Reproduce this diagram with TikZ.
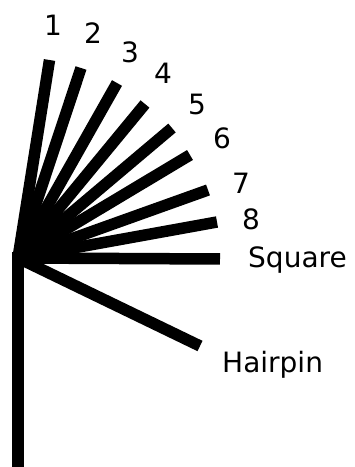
\documentclass[tikz,border=0pt]{standalone}
\usepackage{fontspec}
\setmainfont{DejaVu Sans}
\usetikzlibrary{positioning}

\tikzset{
  spoke/.style={line width=11.5pt},
  tag/.style={font=\fontsize{28}{32}\selectfont,inner sep=0pt}
}

\begin{document}
\begin{tikzpicture}[x=1pt,y=1pt]
  \useasboundingbox (0,0) rectangle (355,467);

  %% Hub and spoke ends
  \coordinate (hub) at (18,209);
  \coordinate (neck) at (18,215);
  \coordinate (foot) at (18,0);
  \coordinate (e1) at (49.5,407);
  \coordinate (e2) at (81,399);
  \coordinate (e3) at (117,384);
  \coordinate (e4) at (145,363);
  \coordinate (e5) at (172,339);
  \coordinate (e6) at (190,312);
  \coordinate (e7) at (208,277);
  \coordinate (e8) at (217,245);
  \coordinate (esq) at (220,208);
  \coordinate (ehp) at (200,121);

  %% Spokes
  \draw[spoke] (neck) -- (foot);
  \draw[spoke] (hub) -- (e1);
  \draw[spoke] (hub) -- (e2);
  \draw[spoke] (hub) -- (e3);
  \draw[spoke] (hub) -- (e4);
  \draw[spoke] (hub) -- (e5);
  \draw[spoke] (hub) -- (e6);
  \draw[spoke] (hub) -- (e7);
  \draw[spoke] (hub) -- (e8);
  \draw[spoke] (hub) -- (esq);
  \draw[spoke] (hub) -- (ehp);

  %% Labels
  \node[tag] (l1) at (53,442) {1};
  \node[tag] (l2) at (93,434) {2};
  \node[tag] (l3) at (130,415) {3};
  \node[tag] (l4) at (163,394) {4};
  \node[tag] (l5) at (197,363) {5};
  \node[tag] (l6) at (222,329) {6};
  \node[tag] (l7) at (241,284) {7};
  \node[tag] (l8) at (251,248) {8};
  \node[tag,anchor=base west] (lsq) at (248,199) {Square};
  \node[tag,anchor=base west] (lhp) at (222,95) {Hairpin};
\end{tikzpicture}
\end{document}
